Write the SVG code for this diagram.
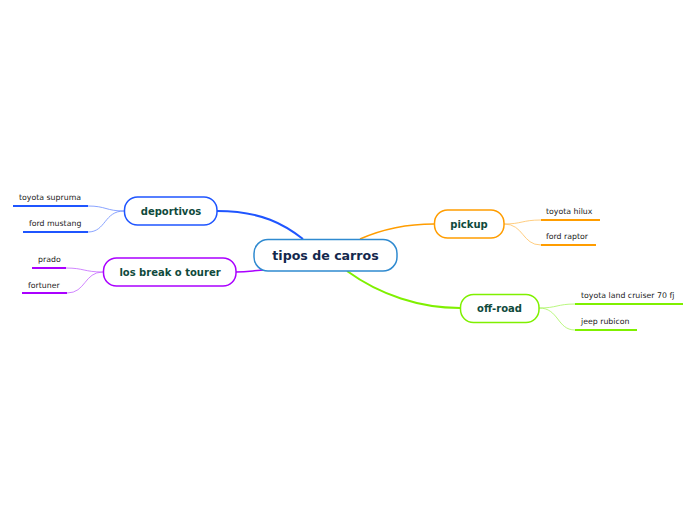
<svg xmlns="http://www.w3.org/2000/svg" width="696" height="520" viewBox="0 0 696 520">
<style>
.node rect{fill:#fff;stroke-width:1.5}
.main{font-family:"DejaVu Sans",Verdana,sans-serif;font-weight:bold;font-size:10px;fill:#0f4a3c;text-anchor:middle}
.leaf{font-family:"DejaVu Sans",Verdana,sans-serif;font-size:7.8px;fill:#222}
.conn path{fill:none}
</style>
<rect width="696" height="520" fill="#fff"/>
<g id="connectors" class="conn">
<path d="M217,211 C262,211 285,225 303,239" stroke="#1f55ff" stroke-width="2"/>
<path d="M360,239 C385,228 408,224 434,224" stroke="#ff9d00" stroke-width="1.5"/>
<path d="M347,271 C380,295 420,308 460,308" stroke="#7ff000" stroke-width="2"/>
<path d="M236,272 C250,272 255,270 266,270" stroke="#aa00ff" stroke-width="1.5"/>
<path d="M124,211 C106,211 106,206 88,206" stroke="#6b8cff" stroke-width="0.8"/>
<path d="M124,211 C104,211 106,232 88,232" stroke="#6b8cff" stroke-width="0.8"/>
<path d="M103,272 C84,272 84,268 66,268" stroke="#c466ff" stroke-width="0.8"/>
<path d="M103,272 C84,272 86,293 67,293" stroke="#c466ff" stroke-width="0.8"/>
<path d="M504,224 C522,224 522,220 541,220" stroke="#ffc060" stroke-width="0.8"/>
<path d="M504,224 C524,224 522,245 541,245" stroke="#ffc060" stroke-width="0.8"/>
<path d="M539,308 C557,308 557,304 575,304" stroke="#a8f560" stroke-width="0.8"/>
<path d="M539,308 C559,308 557,330 575,330" stroke="#a8f560" stroke-width="0.8"/>
<path d="M13,206 H88" stroke="#1f55ff" stroke-width="2"/>
<path d="M23,232 H88" stroke="#1f55ff" stroke-width="2"/>
<path d="M32,268 H66" stroke="#aa00ff" stroke-width="2"/>
<path d="M22,293 H67" stroke="#aa00ff" stroke-width="2"/>
<path d="M541,220 H600" stroke="#ff9d00" stroke-width="2"/>
<path d="M541,245 H596" stroke="#ff9d00" stroke-width="2"/>
<path d="M575,304 H683" stroke="#7ff000" stroke-width="2"/>
<path d="M575,330 H637" stroke="#7ff000" stroke-width="2"/>
</g>
<g id="central" class="node">
<rect x="254" y="239.5" width="143" height="31.5" rx="14" stroke="#2f8ad0"/>
<text x="325.5" y="260" font-family="DejaVu Sans,Verdana,sans-serif" font-weight="bold" font-size="12.6" fill="#13284d" text-anchor="middle">tipos de carros</text>
</g>
<g id="deportivos" class="node">
<rect x="124.5" y="197" width="92.5" height="28" rx="13" stroke="#1f55ff"/>
<text class="main" x="171" y="214.5">deportivos</text>
</g>
<g id="break" class="node">
<rect x="103.5" y="258" width="132.5" height="28" rx="13" stroke="#aa00ff"/>
<text class="main" x="170" y="275.5">los break o tourer</text>
</g>
<g id="pickup" class="node">
<rect x="434.5" y="210" width="69.5" height="28" rx="13" stroke="#ff9d00"/>
<text class="main" x="469" y="227.5">pickup</text>
</g>
<g id="offroad" class="node">
<rect x="460.5" y="294.5" width="78.5" height="28" rx="13" stroke="#7ff000"/>
<text class="main" x="499.5" y="312">off-road</text>
</g>
<g id="leaf-supruma"><text class="leaf" x="19" y="200">toyota supruma</text></g>
<g id="leaf-mustang"><text class="leaf" x="29" y="226">ford mustang</text></g>
<g id="leaf-prado"><text class="leaf" x="38" y="262">prado</text></g>
<g id="leaf-fortuner"><text class="leaf" x="28" y="288">fortuner</text></g>
<g id="leaf-hilux"><text class="leaf" x="546" y="214">toyota hilux</text></g>
<g id="leaf-raptor"><text class="leaf" x="546" y="239">ford raptor</text></g>
<g id="leaf-landcruiser"><text class="leaf" x="581" y="298">toyota land cruiser 70 fj</text></g>
<g id="leaf-rubicon"><text class="leaf" x="581" y="324">jeep rubicon</text></g>
</svg>
